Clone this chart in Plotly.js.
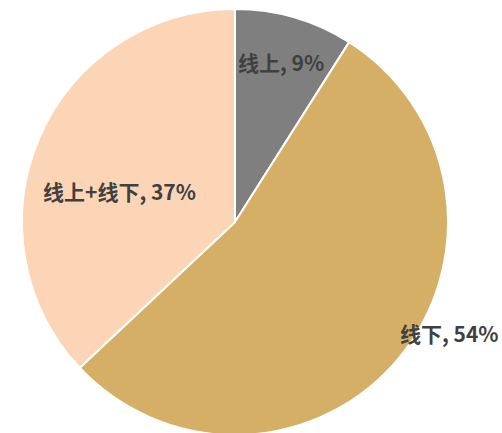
<!DOCTYPE html>
<html><head><meta charset="utf-8">
<script src="https://cdn.plot.ly/plotly-3.0.1.min.js"></script>
<style>html,body{margin:0;padding:0;overflow:hidden;background:#fff}</style>
</head><body><div id="chart"></div>
<script>
const labels = ["线上", "线下", "线上+线下"];
const values = [9, 54, 37];
const colors = ["#7F7F7F", "#D6AF67", "#FBD5B5"];
const labelPos = [[281, 62], [449, 333], [119, 191]];

const W = 502, H = 436;
const annotations = labels.map((l, i) => ({
  text: l + ", " + values[i] + "%",
  x: labelPos[i][0] / W, y: 1 - labelPos[i][1] / H,
  xref: "paper", yref: "paper", showarrow: false,
  xanchor: "center", yanchor: "middle",
  font: {family: "Noto Sans CJK SC, sans-serif", size: 21, color: "#404040", weight: "bold"}
}));

Plotly.newPlot("chart", [{
  type: "pie", labels: labels, values: values, sort: false, direction: "clockwise", rotation: 0,
  marker: {colors: colors, line: {color: "#ffffff", width: 2}},
  textinfo: "none", hoverinfo: "label+percent",
  domain: {x: [22 / W, 448 / W], y: [1 - 435 / H, 1 - 9 / H]}
}], {
  width: W, height: H, margin: {l: 0, r: 0, t: 0, b: 0},
  showlegend: false, paper_bgcolor: "#ffffff", annotations: annotations
}, {displayModeBar: false, staticPlot: true});
</script></body></html>
